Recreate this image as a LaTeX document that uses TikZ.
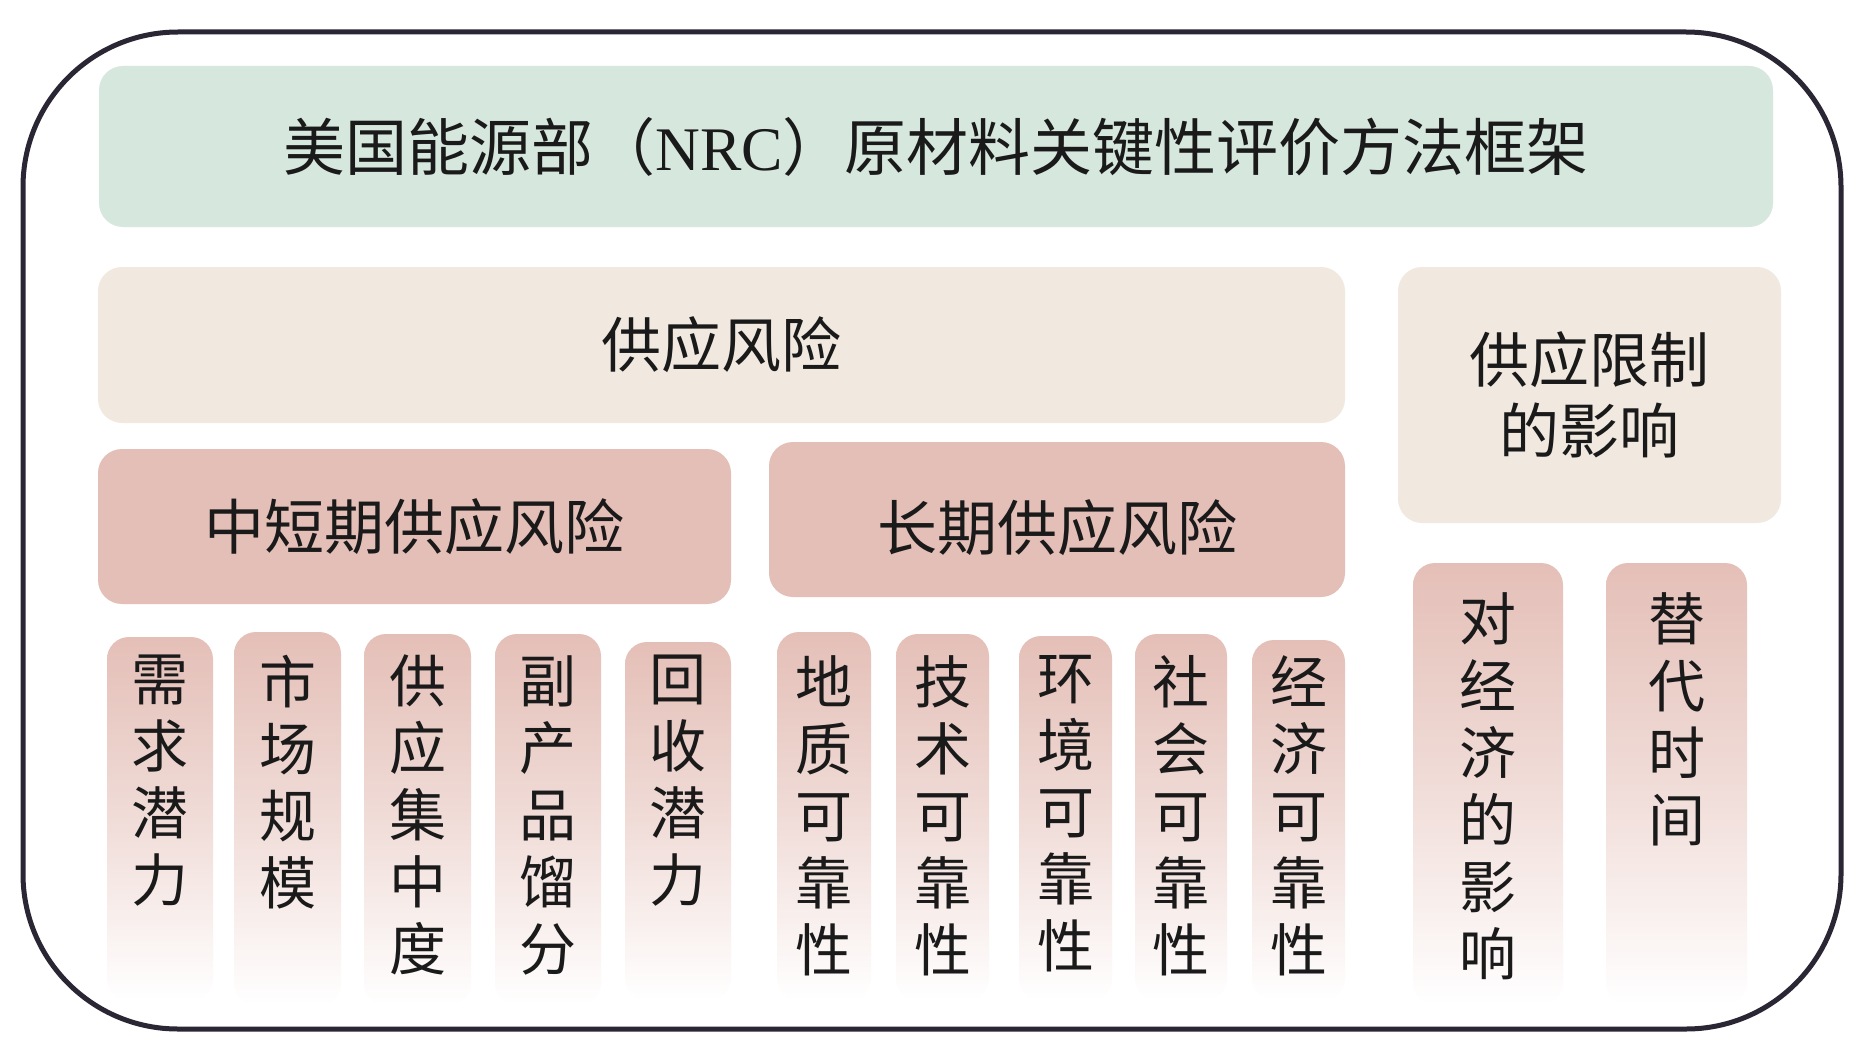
\documentclass[tikz,border=0pt]{standalone}
\usepackage{fontspec}
\setmainfont{Liberation Serif}
\newfontfamily\cjk{Noto Sans CJK SC}
\definecolor{framec}{HTML}{2A2633}
\definecolor{titlegreen}{HTML}{D6E7DE}
\definecolor{beige}{HTML}{F1E9E0}
\definecolor{rose}{HTML}{E4BFB7}
\definecolor{ink}{HTML}{1A1A1A}
\begin{document}
\begin{tikzpicture}[x=1pt,y=-1pt,
  blk/.style={rounded corners=24pt, inner sep=0pt, text=ink, align=center},
  head/.style={blk, font=\cjk\fontsize{60}{71}\selectfont},
  colbox/.style={rounded corners=22pt, inner sep=0pt, top color=rose, bottom color=white, middle color=rose!55},
  coltxt/.style={inner sep=0pt, anchor=north, align=center, text=ink, font=\cjk\fontsize{57}{67}\selectfont}
]
\useasboundingbox (0,0) rectangle (1866,1054);
\fill[white] (0,0) rectangle (1866,1054);
% outer frame
\node[draw=framec, line width=5pt, rounded corners=155pt, minimum width=1818pt, minimum height=997pt, inner sep=0pt] (frame) at (932,530.5) {};
% title
\node[blk, fill=titlegreen, minimum width=1674pt, minimum height=161pt, font=\fontsize{62}{70}\selectfont] (title) at (936,146.5)
  {{\cjk 美国能源部（}NRC{\cjk ）原材料关键性评价方法框架}};
% supply risk
\node[head, fill=beige, minimum width=1247pt, minimum height=156pt] (sr) at (721.5,345) {供应风险};
\node[head, fill=beige, minimum width=383pt, minimum height=256pt] (sl) at (1589.5,395) {供应限制\\的影响};
\node[head, fill=rose, minimum width=633pt, minimum height=155pt] (st) at (414.5,526.5) {中短期供应风险};
\node[head, fill=rose, minimum width=576pt, minimum height=155pt, text depth=-8pt] (lt) at (1057,519.5) {};
\node[head, inner sep=0pt] (ltt) at (1057,528) {长期供应风险};
% columns
\node[colbox, minimum width=106pt, minimum height=363pt] (c1) at (160,818.5) {};
\node[colbox, minimum width=107pt, minimum height=373pt] (c2) at (287.5,818.5) {};
\node[colbox, minimum width=107pt, minimum height=371pt] (c3) at (417.5,819.5) {};
\node[colbox, minimum width=106pt, minimum height=371pt] (c4) at (548,819.5) {};
\node[colbox, minimum width=106pt, minimum height=358pt] (c5) at (678,821) {};
\node[colbox, minimum width=94pt, minimum height=368pt] (d1) at (824,816) {};
\node[colbox, minimum width=93pt, minimum height=366pt] (d2) at (942.5,817) {};
\node[colbox, minimum width=93pt, minimum height=364pt] (d3) at (1065.5,818) {};
\node[colbox, minimum width=92pt, minimum height=366pt] (d4) at (1181,817) {};
\node[colbox, minimum width=93pt, minimum height=360pt] (d5) at (1298.5,820) {};
\node[colbox, minimum width=150pt, minimum height=442pt] (e1) at (1488,784) {};
\node[colbox, minimum width=141pt, minimum height=442pt] (e2) at (1676.5,784) {};
% column texts
\node[coltxt] (c1t) at (160,655) {需\\求\\潜\\力};
\node[coltxt] (c2t) at (287.5,655) {市\\场\\规\\模};
\node[coltxt] (c3t) at (417.5,655) {供\\应\\集\\中\\度};
\node[coltxt] (c4t) at (548,655) {副\\产\\品\\馏\\分};
\node[coltxt] (c5t) at (678,655) {回\\收\\潜\\力};
\node[coltxt] (d1t) at (824,655) {地\\质\\可\\靠\\性};
\node[coltxt] (d2t) at (942.5,655) {技\\术\\可\\靠\\性};
\node[coltxt] (d3t) at (1065.5,655) {环\\境\\可\\靠\\性};
\node[coltxt] (d4t) at (1181,655) {社\\会\\可\\靠\\性};
\node[coltxt] (d5t) at (1298.5,655) {经\\济\\可\\靠\\性};
\node[coltxt] (e1t) at (1488,592) {对\\经\\济\\的\\影\\响};
\node[coltxt] (e2t) at (1676.5,592) {替\\代\\时\\间};
\end{tikzpicture}
\end{document}
